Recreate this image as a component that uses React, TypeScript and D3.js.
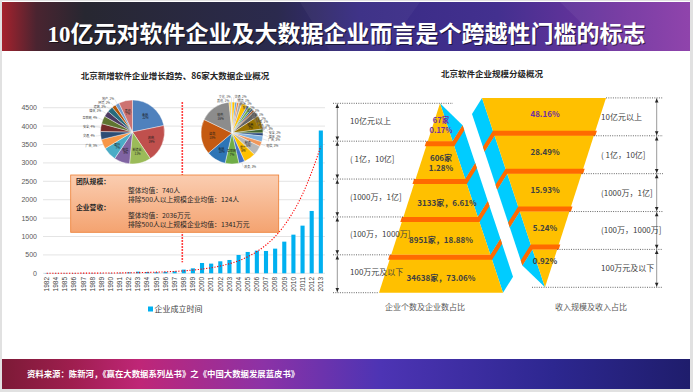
import { useEffect, useRef } from "react";
import * as d3 from "d3";

// ---- bar chart data ----
const years = [
  "1982", "1984", "1985", "1986", "1987", "1988", "1989", "1990", "1991", "1992",
  "1993", "1994", "1995", "1996", "1997", "1998", "1999", "2000", "2001", "2002",
  "2003", "2004", "2005", "2006", "2007", "2008", "2009", "2010", "2011", "2012", "2013",
];
const newFirms = [
  8, 5, 6, 7, 6, 8, 7, 9, 10, 25,
  45, 35, 30, 40, 55, 100, 135, 280, 263, 326,
  362, 498, 580, 616, 607, 670, 860, 1050, 1295, 1694, 3880,
];
// exponential trend line as drawn
const trendValues = [
  1, 1.7, 2.2, 2.9, 3.8, 4.9, 6.4, 8, 11, 14,
  18, 24, 31, 40, 52, 67, 88, 115, 150, 200,
  260, 340, 450, 590, 770, 1000, 1300, 1680, 2150, 2750, 3450,
];
const yTicks = [0, 500, 1000, 1500, 2000, 2500, 3000, 3500, 4000, 4500];
const dividerYear = "1998";
const seriesName = "企业成立时间";

// ---- pies ----
const pie1Labels = ["金融", "政府", "制造业", "电信", "医疗", "广告", "交通", "安全", "互联网", "媒体", "建筑", "环境", "地产", "其他"];
const pie1Values = [22, 19, 11, 8, 7, 5, 4, 4, 4, 3, 3, 2, 2, 7];
const pie1Colors = ["#4F81BD", "#C0504D", "#9BBB59", "#8064A2", "#4BACC6", "#F79646", "#2C4D75", "#772C2A", "#5F7530", "#4D3B62", "#276A7C", "#B65708", "#729ACA", "#CD7371"];

const pie2Labels = ["交通", "物流", "能源", "教育", "医疗", "旅游", "农业", "环保", "气象", "地产", "电商", "安全", "媒体", "广告", "电信", "制造", "零售", "政务", "互联网", "金融", "咨询", "软件", "其他", "文化"];
const pie2Values = [1.5, 1, 1, 1.5, 3, 1, 1.5, 1, 1, 3, 7, 2, 1.5, 3, 2.5, 5, 6, 3, 7, 10, 18, 16, 1, 0.5];
const pie2Colors = ["#FFC000", "#5B9BD5", "#ED7D31", "#A5A5A5", "#FFC000", "#4472C4", "#70AD47", "#255E91", "#9E480E", "#636363", "#997300", "#43682B", "#264478", "#7CAFDD", "#F1975A", "#B7B7B7", "#FFC000", "#4472C4", "#70AD47", "#2E75B6", "#C55A11", "#8C8C8C", "#FFCD33", "#9DC3E6"];

// ---- callout ----
const teamHead = "团队规模：";
const teamLines = ["整体均值：740人", "排除500人以上规模企业均值：124人"];
const revHead = "企业营收：";
const revLines = ["整体均值：2036万元", "排除500人以上规模企业均值：1341万元"];

// ---- pyramids ----
const tierNames = ["10亿元以上", "( 1亿，10亿]", "(1000万，1亿]", "(100万，1000万]", "100万元及以下"];
const firmCounts = ["67家", "606家", "3133家", "8951家", "34638家"];
const firmShares = ["0.17%", "1.28%", "6.61%", "18.88%", "73.06%"];
const revenueShares = ["48.16%", "28.49%", "15.93%", "5.24%", "0.92%"];

const titleText = "10亿元对软件企业及大数据企业而言是个跨越性门槛的标志";
const sourceText = "资料来源：陈新河，《赢在大数据系列丛书》之《中国大数据发展蓝皮书》";

export default function App() {
  const ref = useRef<SVGSVGElement>(null);

  useEffect(() => {
    if (!ref.current) return;
    const svg = d3.select(ref.current);
    svg.selectAll("*").remove();

    const W = 693;
    const H = 392;
    const cjk = '"Noto Sans CJK SC", "Noto Sans", sans-serif';
    const defs = svg.append("defs");

    const grad = (id: string, stops: [number, string][], vertical = false) => {
      const g = defs.append("linearGradient").attr("id", id)
        .attr("x1", 0).attr("y1", 0).attr("x2", vertical ? 0 : 1).attr("y2", vertical ? 1 : 0);
      stops.forEach(([o, c]) => g.append("stop").attr("offset", o).attr("stop-color", c));
    };
    grad("titleGrad", [[0, "#a5222d"], [0.05, "#4a2430"], [0.12, "#272731"], [0.4, "#2b2a4e"], [0.52, "#382b84"], [0.72, "#43308f"], [0.9, "#7234a0"], [1, "#8a3aa8"]]);
    grad("footGrad", [[0, "#7c1a36"], [0.1, "#9e1e4e"], [0.2, "#bf2677"], [0.38, "#8c32a6"], [0.55, "#4d34b4"], [0.8, "#2d2790"], [1, "#1f1d6c"]]);
    grad("boxGrad", [[0, "#FACDB1"], [1, "#F4A370"]], true);

    // page
    svg.append("rect").attr("width", W).attr("height", H).attr("fill", "#e1e1e1");
    svg.append("rect").attr("x", 2).attr("y", 1).attr("width", 688).attr("height", 388).attr("fill", "#fff");

    // title bar
    svg.append("rect").attr("x", 2).attr("y", 2).attr("width", 688).attr("height", 49).attr("fill", "url(#titleGrad)");
    svg.append("polygon").attr("points", "300,2 420,2 385,51 330,51").attr("fill", "#fff").attr("opacity", 0.04);
    svg.append("polygon").attr("points", "560,2 690,2 690,51 610,51").attr("fill", "#fff").attr("opacity", 0.05);
    const titleFont = '"Liberation Serif", "Noto Sans CJK SC", serif';
    svg.append("text").attr("x", W / 2 + 1).attr("y", 42.5).attr("text-anchor", "middle")
      .style("font-family", titleFont).style("font-size", "23px").style("font-weight", "bold")
      .attr("fill", "#000").attr("opacity", 0.55).text(titleText);
    svg.append("text").attr("x", W / 2).attr("y", 41.5).attr("text-anchor", "middle")
      .style("font-family", titleFont).style("font-size", "23px").style("font-weight", "bold")
      .attr("fill", "#fff").text(titleText);

    // footer
    svg.append("rect").attr("x", 2).attr("y", 359).attr("width", 688).attr("height", 30).attr("fill", "url(#footGrad)");
    svg.append("text").attr("x", 27).attr("y", 377)
      .style("font-family", cjk).style("font-size", "8.4px").style("font-weight", "bold")
      .attr("fill", "#fff").text(sourceText);

    // ================= left chart =================
    svg.append("text").attr("x", 175).attr("y", 78.5).attr("text-anchor", "middle")
      .style("font-family", cjk).style("font-size", "8.5px").style("font-weight", "bold")
      .attr("fill", "#262626").text("北京新增软件企业增长趋势、86家大数据企业概况");

    const x = d3.scaleBand().domain(years).range([42.1, 325.4]).paddingInner(0.55).paddingOuter(0.275);
    const y = d3.scaleLinear().domain([0, 4500]).range([273.3, 107.7]);
    const bw = x.bandwidth();
    const cx = (yr: string) => (x(yr) || 0) + bw / 2;

    svg.append("g").selectAll("line").data(yTicks).join("line")
      .attr("x1", 43).attr("x2", 325)
      .attr("y1", (d) => y(d)).attr("y2", (d) => y(d))
      .attr("stroke", "#d9d9d9").attr("stroke-width", 0.7);

    svg.append("g").selectAll("text").data(yTicks).join("text")
      .attr("x", 37).attr("y", (d) => y(d) + 2.5).attr("text-anchor", "end")
      .style("font-family", '"Liberation Sans", Arial, sans-serif').style("font-size", "7px")
      .attr("fill", "#595959").text((d) => String(d));

    svg.append("g").selectAll("rect").data(years).join("rect")
      .attr("x", (d) => x(d) || 0)
      .attr("y", (d, i) => y(newFirms[i]))
      .attr("width", bw)
      .attr("height", (d, i) => y(0) - y(newFirms[i]))
      .attr("fill", "#00B0F0");

    svg.append("g").selectAll("text").data(years).join("text")
      .attr("transform", (d) => `translate(${cx(d) + 2.3},277) rotate(-90)`)
      .attr("text-anchor", "end")
      .style("font-family", '"Liberation Sans", Arial, sans-serif').style("font-size", "6.5px")
      .attr("fill", "#404040").text((d) => d);

    const trendLine = d3.line<string>()
      .x((d) => cx(d))
      .y((d, i) => y(trendValues[i]))
      .curve(d3.curveMonotoneX);
    svg.append("path").attr("d", trendLine(years) || "")
      .attr("fill", "none").attr("stroke", "#FF0000").attr("stroke-width", 1.1)
      .attr("stroke-dasharray", "1.2,1.6");

    // vertical divider
    const dx0 = (x(dividerYear) || 0) + 0.6;
    svg.append("line").attr("x1", dx0).attr("x2", dx0).attr("y1", y(4650)).attr("y2", y(300))
      .attr("stroke", "#FF0000").attr("stroke-width", 1.6).attr("stroke-dasharray", "1.6,1.4");

    // pies
    const drawPie = (cxp: number, cyp: number, r: number, labels: string[], values: number[], colors: string[], inside: number) => {
      const total = d3.sum(values);
      const arcs = d3.pie<number>().sort(null).value((d) => d)(values);
      const arc = d3.arc<d3.PieArcDatum<number>>().innerRadius(0).outerRadius(r);
      const g = svg.append("g").attr("transform", `translate(${cxp},${cyp})`);
      g.selectAll("path").data(arcs).join("path")
        .attr("d", arc).attr("fill", (d, i) => colors[i])
        .attr("stroke", "#fff").attr("stroke-width", 0.4);
      type L = { px: number; py: number; anchor: string; isIn: boolean; name: string; pct: string; ex: number; ey: number };
      const items: L[] = arcs.map((a, i) => {
        const pct = `${Math.round((values[i] / total) * 100)}%`;
        const mid = (a.startAngle + a.endAngle) / 2;
        const isIn = values[i] >= inside;
        const rr = isIn ? r * 0.64 : r * 1.16;
        const px = Math.sin(mid) * rr;
        const py = -Math.cos(mid) * rr;
        return {
          px, py, isIn, name: labels[i], pct,
          anchor: isIn ? "middle" : px < 0 ? "end" : "start",
          ex: Math.sin(mid) * r, ey: -Math.cos(mid) * r,
        };
      });
      // spread outside labels vertically on each side
      [-1, 1].forEach((sgn) => {
        const side = items.filter((d) => !d.isIn && Math.sign(d.px) === sgn).sort((a, b) => a.py - b.py);
        for (let k = 1; k < side.length; k++) {
          if (side[k].py < side[k - 1].py + 3.6) side[k].py = side[k - 1].py + 3.6;
        }
      });
      items.forEach((d) => {
        if (!d.isIn) {
          g.append("line").attr("x1", d.ex).attr("y1", d.ey).attr("x2", d.px).attr("y2", d.py)
            .attr("stroke", "#a6a6a6").attr("stroke-width", 0.25);
          g.append("text").attr("x", d.px + Math.sign(d.px) * 0.8).attr("y", d.py + 1)
            .attr("text-anchor", d.anchor)
            .style("font-family", cjk).style("font-size", "3px")
            .attr("fill", "#404040").text(`${d.name}, ${d.pct}`);
        } else {
          const t = g.append("text").attr("text-anchor", "middle")
            .style("font-family", cjk).style("font-size", "3px").attr("fill", "#1a1a1a");
          t.append("tspan").attr("x", d.px).attr("y", d.py - 0.4).text(`${d.name},`);
          t.append("tspan").attr("x", d.px).attr("y", d.py + 3).text(d.pct);
        }
      });
    };
    drawPie(132.5, 132, 32, pie1Labels, pie1Values, pie1Colors, 7);
    drawPie(232, 133, 31, pie2Labels, pie2Values, pie2Colors, 5);

    // callout box
    svg.append("rect").attr("x", 70.7).attr("y", 175).attr("width", 208).attr("height", 57.3)
      .attr("fill", "url(#boxGrad)").attr("stroke", "#ED7D31").attr("stroke-width", 0.8);
    const boxText = (tx: number, ty: number, s: string, bold = false) =>
      svg.append("text").attr("x", tx).attr("y", ty)
        .style("font-family", cjk).style("font-size", "6.8px").style("font-weight", bold ? "bold" : "normal")
        .attr("fill", "#262626").text(s);
    boxText(76, 183.5, teamHead, true);
    teamLines.forEach((s, i) => boxText(128, 192.5 + i * 9, s));
    boxText(76, 210, revHead, true);
    revLines.forEach((s, i) => boxText(128, 218.2 + i * 9, s));

    // legend
    svg.append("rect").attr("x", 148).attr("y", 306.5).attr("width", 5).attr("height", 5).attr("fill", "#00B0F0");
    svg.append("text").attr("x", 154.5).attr("y", 312)
      .style("font-family", cjk).style("font-size", "8px").attr("fill", "#404040").text(seriesName);

    // ================= right: pyramids =================
    svg.append("text").attr("x", 492).attr("y", 77).attr("text-anchor", "middle")
      .style("font-family", cjk).style("font-size", "8.5px").style("font-weight", "bold")
      .attr("fill", "#262626").text("北京软件企业规模分级概况");

    const top = 103.3;
    const bottom = 292.7;
    const tierY = d3.scaleLinear().domain([0, tierNames.length]).range([top, bottom]);
    const leftEdge = d3.scaleLinear().domain([top, bottom]).range([440, 379]);
    const rightEdge = d3.scaleLinear().domain([top, bottom]).range([440, 503]);
    const side = { dx: 10, dy: 16 };
    const band = 5;
    const rotCx = 492.5;
    const rotCy = 195.3;

    const drawPyramid = (g: d3.Selection<SVGGElement, unknown, null, undefined>) => {
      tierNames.forEach((_, i) => {
        const yt = tierY(i);
        const yb = tierY(i + 1);
        const A: [number, number] = [rightEdge(yt), yt];
        const D: [number, number] = [rightEdge(yb), yb];
        const sidePts = i === 0
          ? [A, [D[0] + side.dx, D[1] - side.dy], D]
          : [A, [A[0] + side.dx, A[1] - side.dy], [D[0] + side.dx, D[1] - side.dy], D];
        g.append("polygon").attr("points", sidePts.map((p) => p.join(",")).join(" ")).attr("fill", "#00CCFF");
        const front = [[leftEdge(yt), yt], A, D, [leftEdge(yb), yb]];
        g.append("polygon").attr("points", front.map((p) => p.join(",")).join(" ")).attr("fill", "#FFC000");
        if (i > 0) {
          const yb2 = yt + band;
          const bandPts = [
            [leftEdge(yt) - 1.5, yt], A, [A[0] + side.dx, A[1] - side.dy],
            [A[0] + side.dx + 1.7, A[1] - side.dy + band], [rightEdge(yb2), yb2], [leftEdge(yb2) - 1.5, yb2],
          ];
          g.append("polygon").attr("points", bandPts.map((p) => p.join(",")).join(" ")).attr("fill", "#FF6A00");
        }
      });
    };
    drawPyramid(svg.append("g"));
    drawPyramid(svg.append("g").attr("transform", `rotate(180,${rotCx},${rotCy})`));

    const mirrorY = (v: number) => 2 * rotCy - v;
    const mirrorX = (v: number) => 2 * rotCx - v;
    const lbl = (tx: number, ty: number, s: string, opts: { anchor?: string; bold?: boolean; fill?: string; size?: number } = {}) =>
      svg.append("text").attr("x", tx).attr("y", ty).attr("text-anchor", opts.anchor || "start")
        .style("font-family", cjk).style("font-size", `${opts.size || 8}px`)
        .style("font-weight", opts.bold ? "bold" : "normal")
        .attr("fill", opts.fill || "#404040").text(s);

    // guide lines + arrows
    const bounds = d3.range(tierNames.length + 1).map((k) => tierY(k));
    const dotted = (x1: number, x2: number, yy: number) =>
      svg.append("line").attr("x1", x1).attr("x2", x2).attr("y1", yy).attr("y2", yy)
        .attr("stroke", "#404040").attr("stroke-width", 0.8).attr("stroke-dasharray", "1,1.3");
    bounds.forEach((b, k) => {
      dotted(333, k === 0 ? 453 : leftEdge(b), b);
      const rb = mirrorY(b);
      dotted(k === 0 ? mirrorX(453) : mirrorX(leftEdge(b)), 663, rb);
    });
    const arrowAxis = (ax: number, ys: number[]) => {
      svg.append("line").attr("x1", ax).attr("x2", ax).attr("y1", d3.min(ys)!).attr("y2", d3.max(ys)!)
        .attr("stroke", "#7f7f7f").attr("stroke-width", 0.8);
      const sorted = [...ys].sort((a, b) => a - b);
      for (let k = 0; k < sorted.length - 1; k++) {
        const a = sorted[k] + 0.6;
        const b = sorted[k + 1] - 0.6;
        svg.append("path").attr("d", `M${ax},${a} L${ax - 1.8},${a + 4} L${ax + 1.8},${a + 4} Z`).attr("fill", "#262626");
        svg.append("path").attr("d", `M${ax},${b} L${ax - 1.8},${b - 4} L${ax + 1.8},${b - 4} Z`).attr("fill", "#262626");
      }
    };
    arrowAxis(337.3, bounds);
    arrowAxis(656.7, bounds.map(mirrorY));

    // tier labels
    tierNames.forEach((name, i) => {
      const mid = (tierY(i) + tierY(i + 1)) / 2;
      lbl(350, mid + 1.5, name);
      const rmid = (mirrorY(tierY(tierNames.length - i)) + mirrorY(tierY(tierNames.length - i - 1))) / 2;
      lbl(601, rmid + 3, name);
    });

    // left pyramid values
    firmCounts.forEach((c, i) => {
      const yt = tierY(i);
      const yb = tierY(i + 1);
      const fill = i === 0 ? "#7030A0" : "#404040";
      if (i === 0) {
        lbl(441, yb - 18, c, { anchor: "middle", bold: true, fill, size: 7.5 });
        lbl(441, yb - 8, firmShares[i], { anchor: "middle", bold: true, fill, size: 7.5 });
      } else if (i === 1) {
        const m = (yt + band + yb) / 2;
        lbl(441, m - 2, c, { anchor: "middle", bold: true, fill });
        lbl(441, m + 8, firmShares[i], { anchor: "middle", bold: true, fill });
      } else {
        const m = (yt + band + yb) / 2;
        lbl(i === 2 ? 447 : 441, m + 5, `${c}，${firmShares[i]}`, { anchor: "middle", bold: true, fill });
      }
    });

    // right funnel values
    revenueShares.forEach((s, k) => {
      const n = tierNames.length;
      const yt = mirrorY(tierY(n - k));
      const yb = mirrorY(tierY(n - k - 1));
      const m = k < n - 1 ? (yt + yb - band) / 2 : yt + (yb - yt) * 0.3;
      lbl(545, m + 3, s, { anchor: "middle", bold: true, fill: k === 0 ? "#7030A0" : "#404040" });
    });

    lbl(425, 310, "企业个数及企业数占比", { anchor: "middle", fill: "#595959" });
    lbl(591, 310, "收入规模及收入占比", { anchor: "middle", fill: "#595959" });
  }, []);

  return (
    <svg
      ref={ref}
      width={693}
      height={392}
      style={{ position: "absolute", left: 0, top: 0, background: "#fff" }}
    ></svg>
  );
}
